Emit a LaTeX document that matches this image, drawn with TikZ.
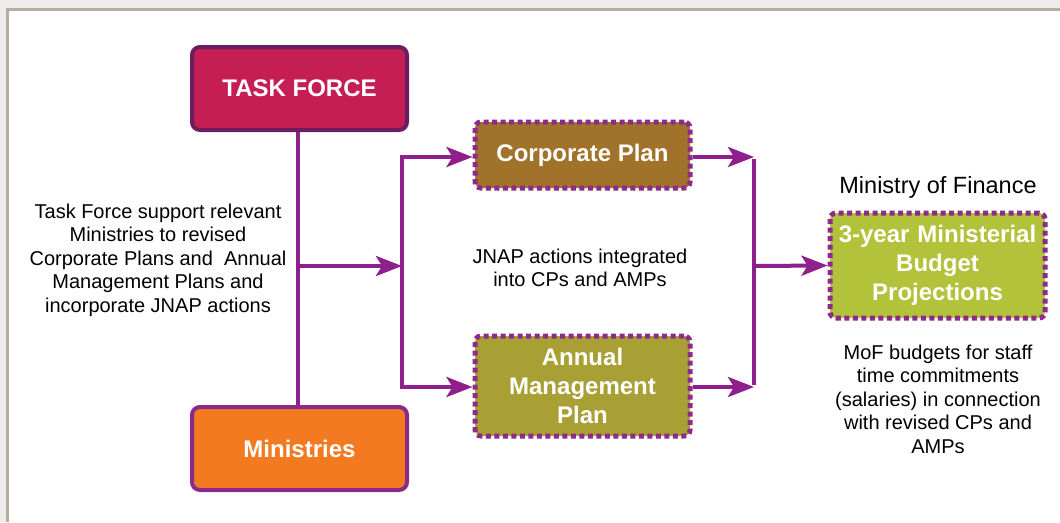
\documentclass[tikz,border=0pt]{standalone}
\usepackage{fontspec}
\setmainfont{Liberation Sans}
\usetikzlibrary{arrows.meta}
\definecolor{linep}{HTML}{8E1F8C}
\definecolor{tfred}{HTML}{C41E55}
\definecolor{tfborder}{HTML}{6B1D5F}
\definecolor{minor}{HTML}{F47A22}
\definecolor{minborder}{HTML}{8A2A8A}
\definecolor{cpbrown}{HTML}{A0722A}
\definecolor{ampolive}{HTML}{A8A035}
\definecolor{mofgreen}{HTML}{B2C23A}
\definecolor{dotp}{HTML}{8E2A8E}
\definecolor{bgout}{HTML}{EFEDEA}
\definecolor{framec}{HTML}{B5ADA0}
\tikzset{
  solidbox/.style={rectangle, rounded corners=8pt, line width=4pt, text=white,
     font=\bfseries\fontsize{24}{29}\selectfont, align=center, inner sep=0pt},
  dotbox/.style={rectangle, rounded corners=6pt, draw=dotp, line width=5pt,
     dash pattern=on 5pt off 3.5pt, text=white,
     font=\bfseries\fontsize{24}{29}\selectfont, align=center, inner sep=0pt},
  conn/.style={draw=linep, line width=4pt},
  arr/.style={conn, -{Stealth[length=26pt,width=20pt,inset=6pt]}},
  plain/.style={font=\fontsize{20}{23.5}\selectfont, align=center, text=black}
}
\begin{document}
\begin{tikzpicture}[x=1pt,y=-1pt]
\useasboundingbox (0,0) rectangle (1060,522);
\fill[bgout] (0,0) rectangle (1060,522);
\fill[white] (8,10) rectangle (1060,522);
\draw[framec, line width=3pt] (7,522) -- (7,9.5) -- (1060,9.5);

% boxes
\node[solidbox, fill=tfred, draw=tfborder, minimum width=215pt, minimum height=83pt] (tf) at (299.5,88.5) {TASK FORCE};
\node[solidbox, fill=minor, draw=minborder, minimum width=215pt, minimum height=83pt] (min) at (299.5,448.5) {Ministries};
\node[dotbox, fill=cpbrown, minimum width=215pt, minimum height=66pt] (cp) at (582.5,155) {Corporate Plan};
\node[dotbox, fill=ampolive, minimum width=215pt, minimum height=100pt, text width=210pt] (amp) at (582.5,386) {Annual\\Management\\Plan};
\node[dotbox, fill=mofgreen, minimum width=215pt, minimum height=105pt, text width=212pt] (mof) at (937.5,265.5) {3-year Ministerial\\Budget\\Projections};

% texts
\node[font=\fontsize{23.5}{26}\selectfont, text=black] (moft) at (938,187) {Ministry of Finance};
\node[plain] (tft) at (158,260) {Task Force support relevant\\Ministries to revised\\Corporate Plans and\ \ Annual\\Management Plans and\\incorporate JNAP actions};
\node[plain] (jt) at (580,268) {JNAP actions integrated\\into CPs and AMPs};
\node[plain] (mbt) at (938,399) {MoF budgets for staff\\time commitments\\(salaries) in connection\\with revised CPs and\\AMPs};

% connectors
\coordinate (a1) at (298,266);
\coordinate (a2) at (402,266);
\coordinate (b1) at (402,157);
\coordinate (b2) at (402,387);
\coordinate (c1) at (754,157);
\coordinate (c2) at (754,387);
\coordinate (c3) at (754,266);

\draw[conn] (tf.south -| a1) -- (min.north -| a1);
\draw[arr] (a1) -- (a2);
\draw[conn] ([yshift=2pt]b1) -- ([yshift=-2pt]b2);
\draw[arr] (b1) -- (b1 -| cp.west);
\draw[arr] (b2) -- (b2 -| amp.west);
\draw[arr] (cp.east |- c1) -- (c1);
\draw[arr] (amp.east |- c2) -- (c2);
\draw[conn] ([yshift=-2pt]c1) -- ([yshift=2pt]c2);
\draw[arr] (c3) -- (mof.west);
\end{tikzpicture}
\end{document}
